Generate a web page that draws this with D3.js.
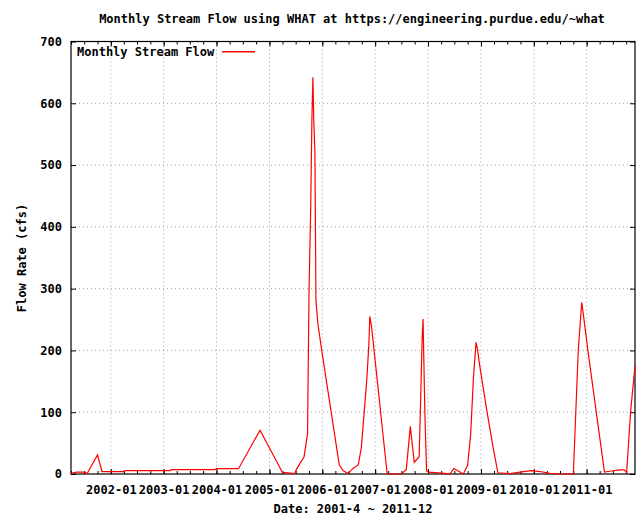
<!DOCTYPE html>
<html>
<head>
<meta charset="utf-8">
<script src="https://cdn.jsdelivr.net/npm/d3@7"></script>
<style>
  body { margin: 0; background: #fff; }
  text { font-family: "DejaVu Sans Mono", monospace; font-weight: bold; font-size: 12px; fill: #000; }
</style>
</head>
<body>
<script>
// vertices of the flow line
const dates = ["2001-04-01","2001-05-10","2001-07-06","2001-07-21","2001-10-01","2001-11-01",
  "2002-03-28","2002-04-10","2003-02-15","2003-02-24","2003-12-21","2004-01-01","2004-06-01",
  "2004-10-28","2005-04-01","2005-06-25","2005-07-06","2005-08-28","2005-09-21","2005-10-01",
  "2005-10-13","2005-10-21","2005-10-28","2005-11-03","2005-11-11","2005-11-18","2005-12-01",
  "2005-12-28","2006-04-28","2006-05-25","2006-06-28","2006-08-01","2006-09-07","2006-09-28",
  "2006-11-04","2006-11-19","2006-11-25","2006-12-07","2007-01-01","2007-03-25","2007-07-01",
  "2007-08-04","2007-09-01","2007-09-28","2007-11-01","2007-11-10","2007-11-22","2007-11-28",
  "2007-12-10","2007-12-22","2008-01-04","2008-04-25","2008-06-01","2008-06-28","2008-07-28",
  "2008-09-01","2008-10-01","2008-10-22","2008-11-10","2008-11-28","2008-12-07","2008-12-25",
  "2009-02-10","2009-03-25","2009-04-28","2009-07-19","2009-09-28","2009-12-16","2010-02-13",
  "2010-04-22","2010-06-28","2010-10-01","2010-11-04","2010-11-28","2010-12-13","2011-01-13",
  "2011-05-04","2011-06-10","2011-08-16","2011-09-16","2011-10-04","2011-11-01","2011-12-01"]
const flows = [1,3,3,0.5,31,4,
  4,5.5,5.5,7,7,8.6,8.6,
  71,2.5,0.5,7.5,28,65,292,
  433,573,642,573,519,281,244,
  200,15,5,1,9,15,44,
  152,211,255,239,184,0,0,
  7,77,19,28,108,222,251,
  103,5,3,1,0,9,5,
  0,14,65,156,213,203,173,
  103,44,2,0.5,3,5.5,4,
  1,0,0,200,278,251,194,
  3,4.5,6.7,6.7,2.5,102,175]

const yTicks = [0,100,200,300,400,500,600,700]
const xTickLabels = ["2002-01","2003-01","2004-01","2005-01","2006-01","2007-01","2008-01","2009-01","2010-01","2011-01"]

const parse = d3.timeParse("%Y-%m-%d")
const data = dates.map(function (d, i) { return { date: parse(d), flow: flows[i] } })

const W = 642, H = 516
const pLeft = 71, pRight = 635, pTop = 41.5, pBottom = 474

const svg = d3.select("body").append("svg").attr("width", W).attr("height", H)

const x = d3.scaleTime().domain([parse("2001-04-01"), parse("2011-12-01")]).range([pLeft, pRight])
const y = d3.scaleLinear().domain([0, 700]).range([pBottom, pTop])

const yearTicks = xTickLabels.map(function (s) { return d3.timeParse("%Y-%m")(s) })
const minorTicks = d3.timeMonth.every(3).range(parse("2001-04-01"), parse("2011-12-02"))

// grid
svg.append("g").selectAll("line").data(yearTicks).enter().append("line")
  .attr("x1", d => x(d)).attr("x2", d => x(d)).attr("y1", pTop).attr("y2", pBottom)
  .attr("stroke", "#a0a0a0").attr("stroke-dasharray", "1,3")
svg.append("g").selectAll("line").data(yTicks.slice(1, -1)).enter().append("line")
  .attr("x1", pLeft).attr("x2", pRight).attr("y1", d => y(d)).attr("y2", d => y(d))
  .attr("stroke", "#a0a0a0").attr("stroke-dasharray", "1,3")

// axes (ticks point inward, mirrored on top and right)
svg.append("g").attr("transform", "translate(0," + pBottom + ")")
  .call(d3.axisBottom(x).tickValues(minorTicks).tickSize(-3).tickFormat(""))
svg.append("g").attr("transform", "translate(0," + pTop + ")")
  .call(d3.axisTop(x).tickValues(minorTicks).tickSize(-3).tickFormat(""))
svg.append("g").attr("transform", "translate(0," + pBottom + ")")
  .call(d3.axisBottom(x).tickValues(yearTicks).tickSize(-5).tickPadding(11)
    .tickFormat(d3.timeFormat("%Y-%m")))
svg.append("g").attr("transform", "translate(0," + pTop + ")")
  .call(d3.axisTop(x).tickValues(yearTicks).tickSize(-5).tickFormat(""))
svg.append("g").attr("transform", "translate(" + pLeft + ",0)")
  .call(d3.axisLeft(y).tickValues(yTicks).tickSize(-5).tickPadding(9))
svg.append("g").attr("transform", "translate(" + pRight + ",0)")
  .call(d3.axisRight(y).tickValues(yTicks).tickSize(-5).tickFormat(""))
svg.selectAll(".domain").attr("stroke", "none")
svg.selectAll(".tick line").attr("stroke", "#000")
svg.selectAll(".tick text").style("font-family", "DejaVu Sans Mono").style("font-size", "12px")
  .style("font-weight", "bold").attr("fill", "#000")

svg.append("rect").attr("x", pLeft).attr("y", pTop).attr("width", pRight - pLeft).attr("height", pBottom - pTop)
  .attr("fill", "none").attr("stroke", "#000").attr("stroke-width", 1.2)

// line
const line = d3.line().x(d => x(d.date)).y(d => y(d.flow))
svg.append("path").datum(data).attr("d", line)
  .attr("fill", "none").attr("stroke", "#ff0000").attr("stroke-width", 1.2)

// legend
svg.append("text").attr("x", 77).attr("y", 55.5).text("Monthly Stream Flow")
svg.append("line").attr("x1", 222).attr("x2", 255).attr("y1", 51.7).attr("y2", 51.7)
  .style("stroke", "#ff0000").style("stroke-width", 1.5)

// titles
svg.append("text").attr("x", 352).attr("y", 23).attr("text-anchor", "middle")
  .text("Monthly Stream Flow using WHAT at https://engineering.purdue.edu/~what")
svg.append("text").attr("x", 353).attr("y", 513).attr("text-anchor", "middle")
  .text("Date: 2001-4 ~ 2011-12")
svg.append("text").attr("transform", "translate(26,258) rotate(-90)").attr("text-anchor", "middle")
  .text("Flow Rate (cfs)")
</script>
</body>
</html>
